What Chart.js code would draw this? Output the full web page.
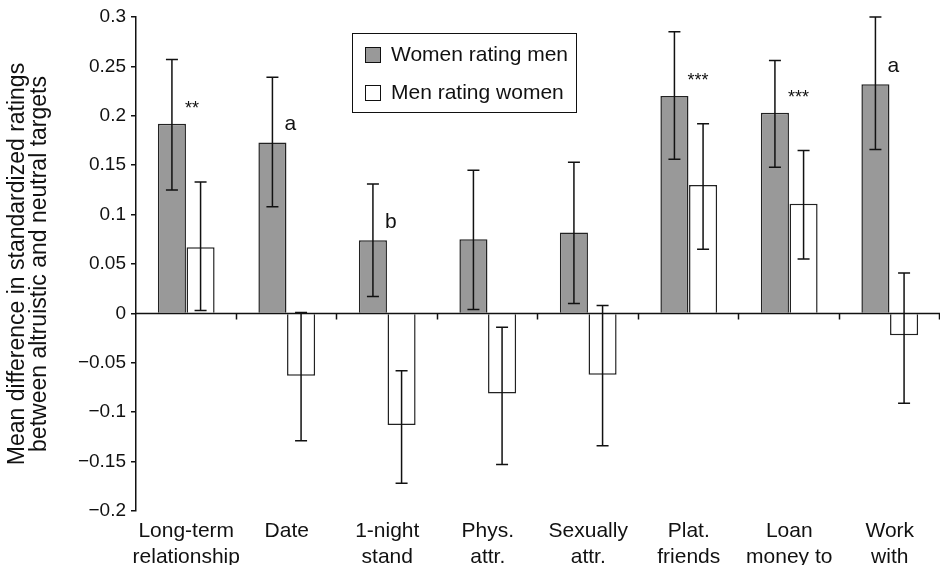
<!DOCTYPE html>
<html>
<head>
<meta charset="utf-8">
<script src="https://cdn.jsdelivr.net/npm/chart.js@4"></script>
<style>
  html, body { margin: 0; padding: 0; background: #fff; }
</style>
</head>
<body>
<canvas id="myChart" width="940" height="565"></canvas>
<script>
// data
const categories = [['Long-term', 'relationship'], ['Date'], ['1-night', 'stand'], ['Phys.', 'attr.'],
                    ['Sexually', 'attr.'], ['Plat.', 'friends'], ['Loan', 'money to'], ['Work', 'with']];
const womenRatingMen = [0.192, 0.173, 0.074, 0.075, 0.082, 0.220, 0.203, 0.232];
const womenLow  = [0.125, 0.108, 0.017, 0.004, 0.010, 0.156, 0.148, 0.166];
const womenHigh = [0.257, 0.239, 0.131, 0.145, 0.153, 0.285, 0.256, 0.300];
const menRatingWomen = [0.067, -0.063, -0.113, -0.081, -0.062, 0.130, 0.111, -0.022];
const menLow  = [0.003, -0.129, -0.172, -0.153, -0.134, 0.065, 0.055, -0.091];
const menHigh = [0.133, 0.001, -0.058, -0.014, 0.008, 0.192, 0.165, 0.041];
const marks = ['**', 'a', 'b', '', '', '***', '***', 'a'];
const yTicks = [0.3, 0.25, 0.2, 0.15, 0.1, 0.05, 0, -0.05, -0.1, -0.15, -0.2];

Chart.defaults.font.family = '"Liberation Sans", Arial, sans-serif';
Chart.defaults.color = '#111';

// error bars
const errorBars = {
    id: 'errorBars',
    afterDatasetsDraw(chart) {
        const ctx = chart.ctx;
        const y = chart.scales.y;
        ctx.save();
        ctx.strokeStyle = '#111';
        ctx.lineWidth = 1.5;
        chart.data.datasets.forEach((ds, i) => {
            const meta = chart.getDatasetMeta(i);
            meta.data.forEach((bar, j) => {
                const yl = y.getPixelForValue(ds.errLow[j]);
                const yh = y.getPixelForValue(ds.errHigh[j]);
                ctx.beginPath();
                ctx.moveTo(bar.x, yl); ctx.lineTo(bar.x, yh);
                ctx.moveTo(bar.x - 6, yl); ctx.lineTo(bar.x + 6, yl);
                ctx.moveTo(bar.x - 6, yh); ctx.lineTo(bar.x + 6, yh);
                ctx.stroke();
            });
        });
        ctx.restore();
    }
};

// zero line with category ticks, significance marks, boxed legend
const extras = {
    id: 'extras',
    afterDatasetsDraw(chart) {
        const ctx = chart.ctx;
        const area = chart.chartArea;
        const y = chart.scales.y;
        const y0 = y.getPixelForValue(0);
        ctx.save();
        ctx.strokeStyle = '#111';
        ctx.lineWidth = 1.5;
        ctx.beginPath();
        ctx.moveTo(area.left, y0); ctx.lineTo(area.right, y0);
        const step = (area.right - area.left) / categories.length;
        for (let k = 1; k <= categories.length; k++) {
            const xx = Math.round(area.left + k * step) - 0.5;
            ctx.moveTo(xx, y0); ctx.lineTo(xx, y0 + 6);
        }
        ctx.stroke();

        // marks above women bars
        const meta = chart.getDatasetMeta(0);
        ctx.fillStyle = '#111';
        ctx.textAlign = 'left';
        ctx.textBaseline = 'alphabetic';
        marks.forEach((m, j) => {
            if (!m) return;
            const bar = meta.data[j];
            const star = m.startsWith('*');
            ctx.font = (star ? '18px' : '21px') + ' "Liberation Sans", Arial, sans-serif';
            ctx.fillText(m, bar.x + (star ? 13 : 12), bar.y - (star ? 10 : 12));
        });

        // legend
        ctx.lineWidth = 1;
        ctx.strokeStyle = '#111';
        ctx.strokeRect(352.5, 33.5, 224, 79);
        ctx.font = '21px "Liberation Sans", Arial, sans-serif';
        ctx.textBaseline = 'middle';
        chart.data.datasets.forEach((ds, i) => {
            const cy = 55 + i * 38;
            ctx.fillStyle = ds.backgroundColor;
            ctx.fillRect(365.5, cy - 7.5, 15, 15);
            ctx.strokeRect(365.5, cy - 7.5, 15, 15);
            ctx.fillStyle = '#111';
            ctx.fillText(ds.label, 391, cy);
        });
        ctx.restore();
    }
};

const ctx = document.getElementById('myChart');
new Chart(ctx, {
    type: 'bar',
    data: {
        labels: categories,
        datasets: [{
            label: 'Women rating men',
            data: womenRatingMen,
            errLow: womenLow,
            errHigh: womenHigh,
            backgroundColor: '#999999',
            borderColor: '#222',
            borderWidth: 1.5,
            borderSkipped: 'start',
            categoryPercentage: 0.57,
            barPercentage: 0.98
        }, {
            label: 'Men rating women',
            data: menRatingWomen,
            errLow: menLow,
            errHigh: menHigh,
            backgroundColor: '#ffffff',
            borderColor: '#222',
            borderWidth: 1.5,
            borderSkipped: 'start',
            categoryPercentage: 0.57,
            barPercentage: 0.98
        }]
    },
    options: {
        responsive: false,
        animation: false,
        devicePixelRatio: 1,
        layout: { padding: { top: 17, right: 0, bottom: 0, left: 0 } },
        plugins: {
            legend: { display: false },
            tooltip: { enabled: false }
        },
        scales: {
            x: {
                grid: { display: false, drawTicks: false },
                border: { display: false },
                ticks: { font: { size: 21 }, padding: 8, maxRotation: 0, autoSkip: false },
                afterFit(scale) { scale.height = 54; }
            },
            y: {
                min: -0.2,
                max: 0.3,
                afterBuildTicks(axis) { axis.ticks = yTicks.map(v => ({ value: v })); },
                afterFit(scale) { scale.width = 136; },
                border: { color: '#111', width: 1.5 },
                grid: { drawOnChartArea: false, color: '#111', lineWidth: 1.5, tickLength: 5 },
                ticks: {
                    font: { size: 19 },
                    padding: 5,
                    callback(v) {
                        const s = String(Math.abs(+v.toFixed(2)));
                        return v < 0 ? '\u2212' + s : s;
                    }
                },
                title: {
                    display: true,
                    text: ['Mean difference in standardized ratings', 'between altruistic and neutral targets'],
                    font: { size: 23, lineHeight: 0.95 },
                    padding: { top: 7, bottom: 0 }
                }
            }
        }
    },
    plugins: [errorBars, extras]
});
</script>
</body>
</html>
